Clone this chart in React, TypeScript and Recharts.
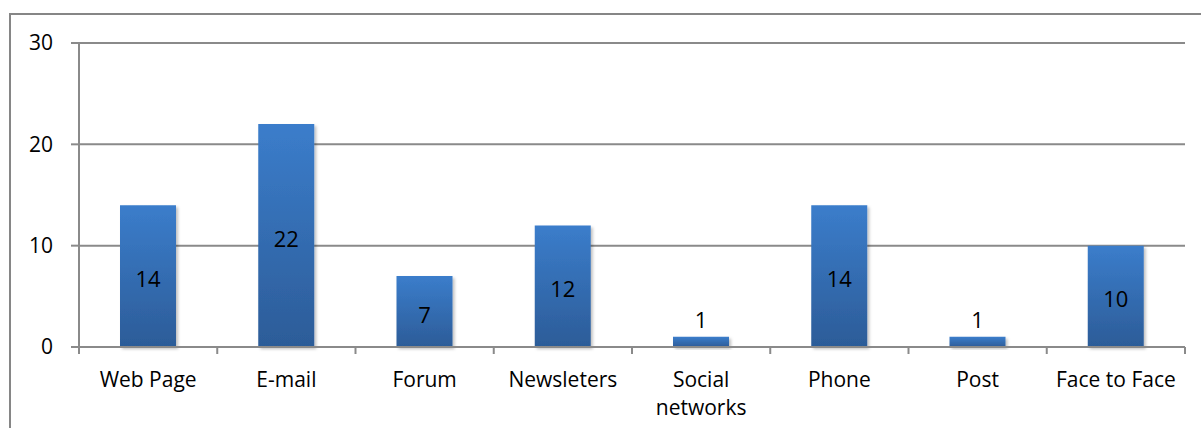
import { BarChart, Bar, XAxis, YAxis, CartesianGrid, LabelList } from 'recharts'

// values
const categories = ['Web Page', 'E-mail', 'Forum', 'Newsleters', 'Social networks', 'Phone', 'Post', 'Face to Face']
const counts = [14, 22, 7, 12, 1, 14, 1, 10]
const yTicks = [0, 10, 20, 30]
const edgeTicks = [0, 1, 2, 3, 4, 5, 6, 7, 8]

const FONT = "'Open Sans', 'Noto Sans', sans-serif"
const AXIS = '#8a8a8a'

const data = categories.map((name, i) => ({ name, value: counts[i], pos: i + 0.5 }))

const NoTick = () => null

const CategoryTick = ({ x, y, payload }: any) => {
  const label: string = payload.value
  const lines = label.length > 13 ? label.split(' ') : [label]
  return (
    <text
      x={x}
      y={y + 39}
      textAnchor="middle"
      style={{ fontFamily: FONT, fontSize: 21, fill: '#000' }}
    >
      {lines.map((l, i) => (
        <tspan key={i} x={x} dy={i === 0 ? 0 : 28}>
          {l}
        </tspan>
      ))}
    </text>
  )
}

// small bars get their number above, the rest in the middle
const ValueLabel = (props: any) => {
  const vb = props.viewBox ?? props
  const { x, y, width, height } = vb
  const small = height < 30
  return (
    <text
      x={x + width / 2}
      y={small ? y - 9 : y + height / 2 + 2}
      textAnchor="middle"
      dominantBaseline={small ? 'auto' : 'central'}
      style={{ fontFamily: FONT, fontSize: 22, fill: '#000' }}
    >
      {props.value}
    </text>
  )
}

export default function App() {
  return (
    <div style={{ position: 'absolute', left: 0, top: 0, width: 1201, height: 428, background: '#fff', overflow: 'hidden' }}>
      <div
        style={{
          position: 'absolute',
          left: 9,
          top: 13,
          right: -4,
          bottom: -4,
          borderLeft: '2px solid #868686',
          borderTop: '2px solid #868686',
        }}
      />
      <BarChart
        width={1201}
        height={428}
        data={data}
        margin={{ top: 43, right: 16, bottom: 0, left: 0 }}
        style={{ position: 'absolute', left: 0, top: 0 }}
      >
        <defs>
          <linearGradient id="barGrad" x1="0" y1="0" x2="0" y2="1">
            <stop offset="0%" stopColor="#3b7dcb" />
            <stop offset="100%" stopColor="#2c5c98" />
          </linearGradient>
          <filter id="barShadow" x="-20%" y="-20%" width="140%" height="140%">
            <feDropShadow dx="2" dy="2" stdDeviation="1.5" floodColor="#000" floodOpacity="0.25" />
          </filter>
        </defs>
        <CartesianGrid vertical={false} stroke={AXIS} strokeWidth={2} />
        <XAxis
          dataKey="pos"
          type="number"
          domain={[0, 8]}
          ticks={edgeTicks}
          interval={0}
          height={1}
          stroke={AXIS}
          strokeWidth={2}
          tickSize={7}
          tickLine={{ stroke: AXIS, strokeWidth: 2 }}
          tick={<NoTick />}
          allowDataOverflow
        />
        <XAxis
          xAxisId="cat"
          dataKey="name"
          height={80}
          axisLine={false}
          tickLine={false}
          tickSize={0}
          tickMargin={0}
          interval={0}
          tick={<CategoryTick />}
        />
        <YAxis
          width={79}
          domain={[0, 30]}
          ticks={yTicks}
          stroke={AXIS}
          strokeWidth={2}
          tickSize={8}
          tickMargin={18}
          tick={{ fill: '#000', fontSize: 21, fontFamily: FONT }}
        />
        <Bar
          xAxisId="cat"
          dataKey="value"
          fill="url(#barGrad)"
          barSize={56}
          filter="url(#barShadow)"
          isAnimationActive={false}
        >
          <LabelList dataKey="value" content={<ValueLabel />} />
        </Bar>
      </BarChart>
    </div>
  )
}
